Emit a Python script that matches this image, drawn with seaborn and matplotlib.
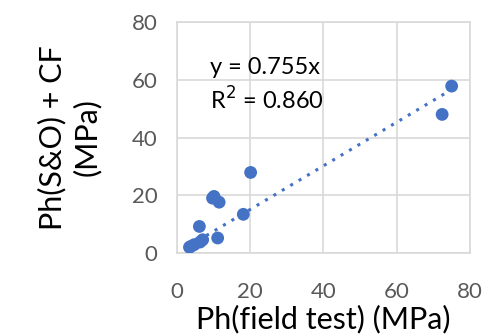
import matplotlib
matplotlib.use("Agg")
import matplotlib.pyplot as plt
import seaborn as sns
import numpy as np
import pandas as pd

x_field = [75.0, 72.4, 20.1, 10.1, 9.7, 11.5, 18.1, 6.1, 11.1, 7.0, 6.3, 3.8, 3.4, 4.7]
y_so = [57.8, 48.0, 27.9, 19.6, 19.0, 17.6, 13.4, 9.2, 5.2, 4.6, 3.8, 2.3, 2.0, 2.9]
slope = 0.755
x_ticks = [0, 20, 40, 60, 80]
y_ticks = [0, 20, 40, 60, 80]

sns.set_theme(style="whitegrid")
plt.rcParams['font.family'] = ['Lato', 'DejaVu Sans']

fig = plt.figure(figsize=(4.85, 3.36), dpi=100)
ax = fig.add_axes([0.365, 0.247, 0.604, 0.6875])

df = pd.DataFrame({"x": x_field, "y": y_so})
xs = np.array([min(x_field), max(x_field)])
trend = pd.DataFrame({"x": xs, "y": slope * xs})
sns.lineplot(data=trend, x="x", y="y", ax=ax, color="#4472C4", linestyle=(0, (1, 2.2)),
             linewidth=2.2, zorder=2)
sns.scatterplot(data=df, x="x", y="y", ax=ax, color="#4472C4", s=85, edgecolor="none", zorder=3)

ax.set_xlim(0, 80)
ax.set_ylim(0, 80)
ax.set_xticks(x_ticks)
ax.set_yticks(y_ticks)
ax.grid(True, color="#D9D9D9", linewidth=1.2)
for s in ax.spines.values():
    s.set_color("#D9D9D9")
    s.set_linewidth(1.2)
ax.tick_params(axis="both", labelsize=16, labelcolor="#595959", length=0)
ax.tick_params(axis="y", pad=14)
ax.tick_params(axis="x", pad=21)
ax.set_xlabel("Ph(field test) (MPa)", fontsize=22, color="black", labelpad=2)
ax.set_ylabel("Ph(S&O) + CF\n(MPa)", fontsize=22, color="black", labelpad=22, linespacing=1.25)
ax.text(9.0, 58.0, "y = 0.755x\nR$^2$ = 0.860", fontsize=17, color="black", va="center", ha="left",
        linespacing=1.35)

fig.savefig("out.png", dpi=100)
